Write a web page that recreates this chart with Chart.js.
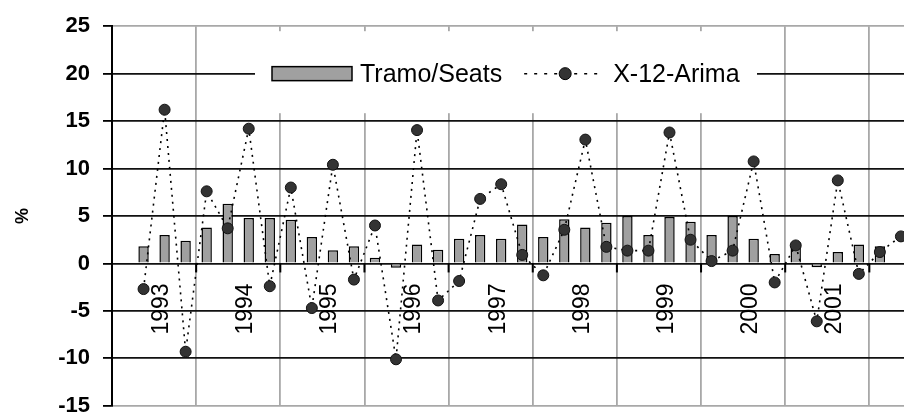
<!DOCTYPE html>
<html>
<head>
<meta charset="utf-8">
<script src="https://cdn.jsdelivr.net/npm/chart.js@4/dist/chart.umd.min.js"></script>
<style>
  html, body { margin: 0; padding: 0; background: #fff; overflow: hidden; }
  #wrap { position: relative; width: 960px; height: 432px; }
</style>
</head>
<body>
<div id="wrap"><canvas id="chart"></canvas></div>
<script>
// --- data (quarterly, 1993 Q1 .. 2002 Q4) ---
const years = ['1993', '1994', '1995', '1996', '1997', '1998', '1999', '2000', '2001', '2002'];
const quarters = ['I', 'II', 'III', 'IV'];

// Tramo/Seats (bars)
const tramoSeats = [
    null, 1.8, 3.0, 2.4,
    3.8, 6.3, 4.8, 4.8,
    4.6, 2.8, 1.4, 1.8,
    0.6, -0.45, 2.0, 1.45,
    2.6, 3.0, 2.6, 4.1,
    2.8, 4.65, 3.8, 4.3,
    5.0, 3.0, 4.9, 4.4,
    3.0, 5.0, 2.6, 1.0,
    2.2, -0.4, 1.2, 2.0,
    1.8, null, null, null
];

// X-12-Arima (dotted line)
const x12Arima = [
    null, -2.7, 16.2, -9.3,
    7.6, 3.7, 14.2, -2.4,
    8.0, -4.7, 10.4, -1.7,
    4.0, -10.1, 14.05, -3.9,
    -1.85, 6.8, 8.35, 0.9,
    -1.25, 3.55, 13.05, 1.75,
    1.35, 1.35, 13.8, 2.5,
    0.25, 1.35, 10.75, -2.0,
    1.9, -6.1, 8.75, -1.1,
    1.2, 2.85, null, null
];

const yTicks = [-15, -10, -5, 0, 5, 10, 15, 20, 25];

// categories built from years x quarters
const labels = [];
years.forEach(y => quarters.forEach(q => labels.push(y + ' ' + q)));

const BAR_GRAY = '#a0a0a0';
const DOT_FILL = '#333333';

// year ticks + rotated year labels on the zero line, and the legend box
const overlayPlugin = {
    id: 'overlay',
    afterDatasetsDraw(chart) {
        const ctx = chart.ctx;
        const xs = chart.scales.x;
        const ys = chart.scales.y;
        const area = chart.chartArea;
        const y0 = ys.getPixelForValue(0);
        const step = xs.getPixelForValue(1) - xs.getPixelForValue(0);

        ctx.save();
        // small black ticks at year boundaries
        ctx.strokeStyle = '#000';
        ctx.lineWidth = 2;
        for (let k = 0; k <= years.length; k++) {
            const x = xs.getPixelForValue(k * 4) - step / 2;
            ctx.beginPath();
            ctx.moveTo(x, y0);
            ctx.lineTo(x, y0 + 9);
            ctx.stroke();
        }
        // year labels, reading bottom to top
        ctx.fillStyle = '#000';
        ctx.font = '23px "Liberation Sans", Arial, sans-serif';
        ctx.textAlign = 'right';
        ctx.textBaseline = 'middle';
        years.forEach((yr, k) => {
            const x = xs.getPixelForValue(k * 4 + 2) - 3;
            ctx.save();
            ctx.translate(x, y0 + 20);
            ctx.rotate(-Math.PI / 2);
            ctx.fillText(yr, 0, 0);
            ctx.restore();
        });

        // legend inside the plot
        const boxL = area.left + 143, boxT = area.top + 5;
        const boxW = 502, boxH = 82;
        ctx.fillStyle = '#fff';
        ctx.fillRect(boxL, boxT, boxW, boxH);

        const ly = ys.getPixelForValue(20);
        ctx.font = '25px "Liberation Sans", Arial, sans-serif';
        ctx.textAlign = 'left';
        ctx.textBaseline = 'middle';

        let x = boxL + 17;
        // bar swatch
        ctx.fillStyle = BAR_GRAY;
        ctx.fillRect(x, ly - 7, 80, 14);
        ctx.strokeStyle = '#000';
        ctx.lineWidth = 1.5;
        ctx.strokeRect(x, ly - 7, 80, 14);
        x += 88;
        ctx.fillStyle = '#000';
        const t1 = chart.data.datasets[0].label;
        ctx.fillText(t1, x, ly + 1);
        x += ctx.measureText(t1).width + 22;

        // dotted line swatch with marker
        ctx.setLineDash([3, 7]);
        ctx.lineWidth = 1.5;
        ctx.beginPath();
        ctx.moveTo(x, ly);
        ctx.lineTo(x + 80, ly);
        ctx.stroke();
        ctx.setLineDash([]);
        ctx.beginPath();
        ctx.arc(x + 41, ly, 6, 0, Math.PI * 2);
        ctx.fillStyle = DOT_FILL;
        ctx.fill();
        ctx.strokeStyle = '#000';
        ctx.lineWidth = 1;
        ctx.stroke();
        x += 89;
        ctx.fillStyle = '#000';
        ctx.fillText(chart.data.datasets[1].label, x, ly + 1);
        ctx.restore();
    }
};

new Chart(document.getElementById('chart'), {
    data: {
        labels: labels,
        datasets: [
            {
                type: 'bar',
                label: 'Tramo/Seats',
                data: tramoSeats,
                backgroundColor: BAR_GRAY,
                borderColor: '#000',
                borderWidth: 1.5,
                barPercentage: 0.52,
                categoryPercentage: 0.95,
                order: 1
            },
            {
                type: 'line',
                label: 'X-12-Arima',
                data: x12Arima,
                borderColor: '#000',
                borderWidth: 1.6,
                borderDash: [2, 5],
                pointRadius: 5.5,
                pointBackgroundColor: DOT_FILL,
                pointBorderColor: '#111',
                pointBorderWidth: 1,
                tension: 0,
                fill: false,
                order: 0
            }
        ]
    },
    options: {
        responsive: true,
        maintainAspectRatio: false,
        animation: false,
        layout: { padding: { top: 21, bottom: 7, left: 0, right: 0 } },
        plugins: {
            legend: { display: false },
            tooltip: { enabled: false }
        },
        scales: {
            x: {
                type: 'category',
                offset: true,
                afterFit: s => { s.height = 0; },
                ticks: { display: false },
                border: { display: false },
                grid: {
                    offset: true,
                    drawTicks: false,
                    lineWidth: 1.8,
                    color: c => (c.index % 4 === 0 ? '#a8a8a8' : 'rgba(0,0,0,0)')
                }
            },
            y: {
                min: -15,
                max: 25,
                afterBuildTicks: s => { s.ticks = yTicks.map(v => ({ value: v })); },
                afterFit: s => { s.width = 112; },
                ticks: {
                    color: '#000',
                    padding: 13,
                    font: { family: '"Liberation Sans", Arial, sans-serif', size: 22, weight: 'bold' }
                },
                grid: {
                    tickLength: 9,
                    lineWidth: 1.8,
                    tickColor: '#000',
                    color: c => (c.tick && (c.tick.value === -15 || c.tick.value === 25) ? '#a8a8a8' : '#111')
                },
                border: { display: true, color: '#000', width: 2 },
                title: {
                    display: true,
                    text: '%',
                    color: '#000',
                    padding: { top: 12, bottom: 0 },
                    font: { family: '"Liberation Sans", Arial, sans-serif', size: 18, weight: 'bold' }
                }
            }
        }
    },
    plugins: [overlayPlugin]
});
</script>
</body>
</html>
